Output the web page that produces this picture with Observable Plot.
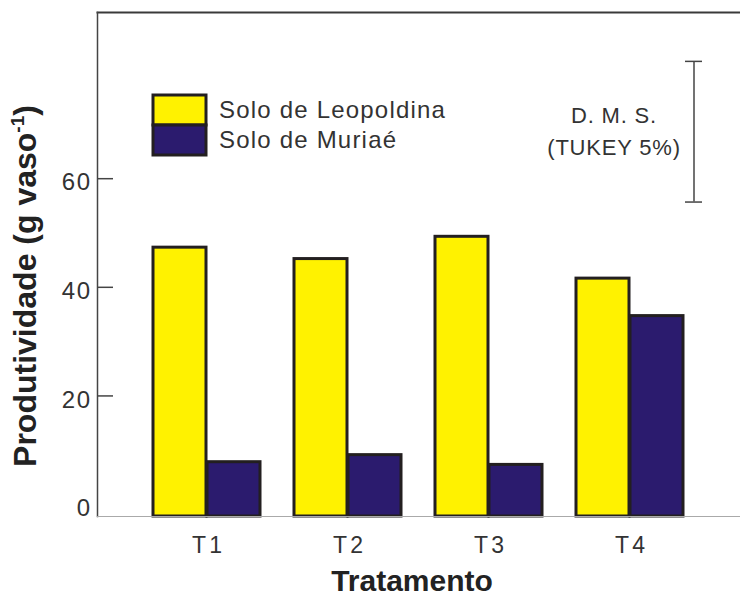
<!DOCTYPE html>
<html><head><meta charset="utf-8">
<script src="https://cdn.jsdelivr.net/npm/d3@7"></script>
<script src="https://cdn.jsdelivr.net/npm/@observablehq/plot@0.6"></script>
<style>
body{margin:0;background:#fff;}
.lsp text{letter-spacing:0.8px;}
.lsl text{letter-spacing:1.2px;}
.yax text{letter-spacing:1.5px;}
.xax text{letter-spacing:3px;}
</style></head><body><div id="chart"></div>
<script>
const treatments = ["T1", "T2", "T3", "T4"];
const series = ["Solo de Leopoldina", "Solo de Muriaé"];
const leopoldina = [47.3, 45.2, 49.3, 41.6];
const muriae = [7.8, 9.1, 7.3, 34.7];
const colors = ["#FFF200", "#2B1B6E"];
const yTicks = [0, 20, 40, 60];
const yDomain = [-2.2, 90.6];
const dmsLabel = "D. M. S.\n(TUKEY 5%)";
const dmsValue = 25.9;
const dmsFrom = 55.7;
const yTitle = ["Produtividade (g vaso", "-1", ")"];
const xTitle = "Tratamento";

const rows = treatments.flatMap((t, i) => [
  {t, s: series[0], v: leopoldina[i]},
  {t, s: series[1], v: muriae[i]}
]);

const ink = "#231F20";
const half = 54;

const plot = Plot.plot({
  width: 740,
  height: 596,
  marginLeft: 97,
  marginRight: 0,
  marginTop: 12,
  marginBottom: 80,
  style: {fontFamily: "'Liberation Sans', Arial, sans-serif", background: "white", overflow: "visible"},
  x: {domain: treatments, paddingInner: 0.238, paddingOuter: 0.388, axis: null},
  y: {domain: yDomain, axis: null},
  color: {domain: series, range: colors},
  marks: [
    Plot.barY(rows.filter(d => d.s === series[0]), {x: "t", y1: () => yDomain[0], y2: "v", fill: "s", stroke: ink, strokeWidth: 3, insetRight: half}),
    Plot.barY(rows.filter(d => d.s === series[1]), {x: "t", y1: () => yDomain[0], y2: "v", fill: "s", stroke: ink, strokeWidth: 3, insetLeft: half}),
    Plot.frame({anchor: "top", stroke: "#3a3a3a", strokeWidth: 2}),
    Plot.frame({anchor: "left", stroke: "#444", strokeWidth: 1.5}),
    Plot.frame({anchor: "bottom", stroke: "#aaa", strokeWidth: 1.2}),
    Plot.ruleY(yTicks.filter(v => v > 0), {stroke: "#444", strokeWidth: 1.5, insetRight: 627}),
    Plot.axisY(yTicks, {tickSize: 0, tickPadding: 6, fontSize: 24, dy: 4, fill: "#333", label: null, className: "yax"}),
    Plot.axisX({tickSize: 0, tickPadding: 20, fontSize: 23, dx: 1.5, fill: "#333", label: null, className: "xax"}),
    Plot.text([xTitle], {frameAnchor: "bottom", lineAnchor: "middle", textAnchor: "middle", dx: -7, dy: 64.5, fontSize: 30, fontWeight: "bold", fill: "#222"}),
    Plot.text([yTitle.join("")], {frameAnchor: "left", rotate: -90, lineAnchor: "middle", textAnchor: "middle", dx: -72, dy: 21.5, fontSize: 32, fontWeight: "bold", fill: "#222", className: "ytitle"}),
    ...series.map((s, i) => Plot.cell([s], {x: () => "T1", fill: d => d, stroke: ink, strokeWidth: 3, insetRight: half, insetTop: 83 + 30 * i, insetBottom: 391 - 30 * i})),
    ...series.map((s, i) => Plot.text([s], {x: () => "T1", text: d => d, frameAnchor: "top", lineAnchor: "top", textAnchor: "start", dx: 12, dy: 88 + 30 * i, fontSize: 24, fill: "#333", className: "lsl"})),
    Plot.ruleX([dmsValue], {x: () => "T4", y1: () => dmsFrom, y2: d => dmsFrom + d, dx: 64, stroke: "#444", strokeWidth: 1.5}),
    Plot.tickY([dmsFrom, dmsFrom + dmsValue], {x: () => "T4", y: d => d, dx: 64, insetLeft: 45, insetRight: 45, stroke: "#444", strokeWidth: 1.5}),
    Plot.text([dmsLabel], {x: () => "T4", frameAnchor: "top", lineAnchor: "top", textAnchor: "middle", dx: -16, dy: 87.4, fontSize: 22, lineHeight: 1.455, fill: "#333", className: "lsp"})
  ]
});

const yt = plot.querySelector(".ytitle text");
if (yt) {
  yt.textContent = "";
  const sel = d3.select(yt);
  sel.append("tspan").text(yTitle[0]);
  sel.append("tspan").attr("dy", -12).attr("font-size", 19).text(yTitle[1]);
  sel.append("tspan").attr("dy", 12).text(yTitle[2]);
}
document.getElementById("chart").appendChild(plot);
</script></body></html>
